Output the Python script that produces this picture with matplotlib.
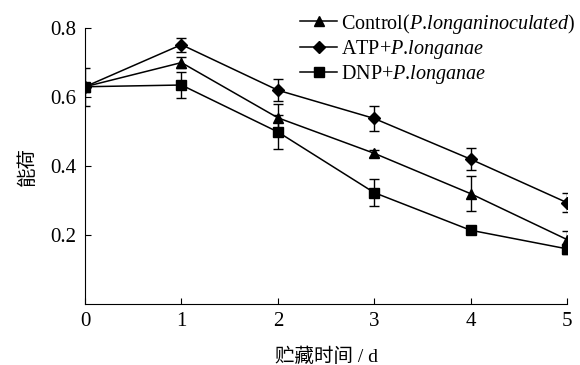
import matplotlib
matplotlib.use("Agg")
import matplotlib.pyplot as plt
from matplotlib.lines import Line2D

plt.rcParams["font.family"] = ["Liberation Serif", "Noto Sans CJK SC"]
plt.rcParams["mathtext.fontset"] = "custom"
plt.rcParams["mathtext.rm"] = "Liberation Serif"
plt.rcParams["mathtext.it"] = "Liberation Serif:italic"

days = [0, 1, 2, 3, 4, 5]
control = [0.630, 0.700, 0.540, 0.437, 0.320, 0.187]
control_err = [0.055, 0.015, 0.040, 0.010, 0.050, 0.025]
atp = [0.630, 0.752, 0.620, 0.538, 0.420, 0.294]
atp_err = [0.010, 0.020, 0.032, 0.036, 0.032, 0.027]
dnp = [0.630, 0.635, 0.499, 0.323, 0.214, 0.160]
dnp_err = [0.010, 0.038, 0.050, 0.040, 0.010, 0.015]
# "." kept outside mathtext so it gets no punctuation space
labels = ["Control($\\it{P}$.$\\it{longaninoculated}$)",
          "ATP+$\\it{P}$.$\\it{longanae}$",
          "DNP+$\\it{P}$.$\\it{longanae}$"]

fig = plt.figure(figsize=(5.8, 3.65), dpi=100)
ax = fig.add_axes([0.1466, 0.167, 0.831, 0.756])

series = [(control, control_err, "^", 7.5), (atp, atp_err, "D", 6), (dnp, dnp_err, "s", 6.5)]
handles = []
for vals, err, mk, ms in series:
    ax.errorbar(days, vals, yerr=err, color="black", marker=mk, ms=ms, lw=1.1,
                elinewidth=1.0, capsize=3.5, capthick=1.0)
    handles.append(Line2D([], [], color="black", marker=mk, ms=ms, lw=1.1))

ax.set_xlim(0, 5)
ax.set_ylim(0, 0.8)
ax.set_xticks(days)
ax.set_yticks([0.2, 0.4, 0.6, 0.8])
ax.set_yticklabels(["0.2", "0.4", "0.6", "0.8"])
ax.spines["top"].set_visible(False)
ax.spines["right"].set_visible(False)
ax.tick_params(direction="in", length=4, labelsize=15, pad=6)
ax.set_xlabel("贮藏时间 / d", fontsize=14, labelpad=12)
ax.set_ylabel("能荷", fontsize=14, labelpad=10)

ax.legend(handles, labels, loc="upper left", bbox_to_anchor=(0.446, 1.06),
          frameon=False, fontsize=14.5, handlelength=1.85, handletextpad=0.2,
          labelspacing=0.1, borderpad=0, borderaxespad=0)

fig.savefig("out.png", dpi=100)
